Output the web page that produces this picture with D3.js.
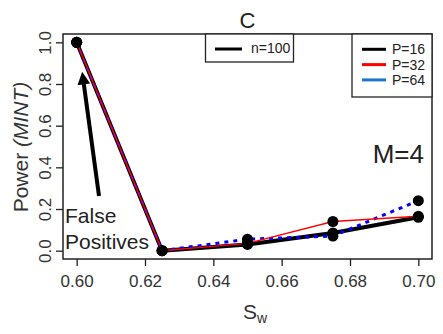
<!DOCTYPE html>
<html>
<head>
<meta charset="utf-8">
<script src="https://cdn.jsdelivr.net/npm/d3@7"></script>
<style>
  body { margin: 0; background: #fff; }
  text { font-family: "Liberation Sans", Arial, sans-serif; }
</style>
</head>
<body>
<script>
const width = 443;
const height = 334;

const margin = {
    left: 63,
    right: 11,
    top: 34,
    bottom: 75
};

// data
const sw = [0.60, 0.625, 0.65, 0.675, 0.70];
const p16 = [1.0, 0.0, 0.03, 0.085, 0.16];
const p32 = [1.0, 0.0, 0.035, 0.14, 0.165];
const p64 = [1.0, 0.0, 0.055, 0.07, 0.24];
const xTicks = [0.60, 0.62, 0.64, 0.66, 0.68, 0.70];
const yTicks = [0.0, 0.2, 0.4, 0.6, 0.8, 1.0];
const seriesNames = ["P=16", "P=32", "P=64"];
const legendColors = ["black", "#ff0000", "#1f74d2"];

let svg = d3.select("body").append("svg")
    .attr("width", width)
    .attr("height", height);

let xScale = d3.scaleLinear()
    .domain([0.596, 0.704])
    .range([margin.left, width - margin.right]);

let yScale = d3.scaleLinear()
    .domain([-0.04, 1.04])
    .range([height - margin.bottom, margin.top]);

// box
svg.append("rect")
    .attr("x", margin.left)
    .attr("y", margin.top)
    .attr("width", width - margin.left - margin.right)
    .attr("height", height - margin.top - margin.bottom)
    .attr("fill", "none")
    .attr("stroke", "#222")
    .attr("stroke-width", 1.5);

let xAxis = svg.append("g")
    .attr("transform", "translate(0," + (height - margin.bottom) + ")")
    .call(d3.axisBottom(xScale).tickValues(xTicks).tickFormat(d3.format(".2f")).tickSize(7).tickPadding(9));
xAxis.select(".domain").remove();
xAxis.selectAll("line").attr("stroke", "#222").attr("stroke-width", 1.3);
xAxis.selectAll("text").style("font-size", "17px").attr("fill", "#333");

let yAxis = svg.append("g")
    .attr("transform", "translate(" + margin.left + ",0)")
    .call(d3.axisLeft(yScale).tickValues(yTicks).tickFormat(d3.format(".1f")).tickSize(7));
yAxis.select(".domain").remove();
yAxis.selectAll("line").attr("stroke", "#222").attr("stroke-width", 1.3);
yAxis.selectAll("text")
    .style("font-size", "17px")
    .attr("fill", "#333")
    .attr("text-anchor", "middle")
    .attr("x", 0)
    .attr("dy", 0)
    .attr("transform", "translate(-12,0) rotate(-90)");

// titles
svg.append("text")
    .attr("x", (margin.left + width - margin.right) / 2)
    .attr("y", 28)
    .attr("text-anchor", "middle")
    .style("font-size", "22px")
    .attr("fill", "#222")
    .text("C");

let yLab = svg.append("text")
    .attr("text-anchor", "middle")
    .style("font-size", "21px")
    .attr("fill", "#333")
    .attr("transform", "translate(28,147) rotate(-90)");
yLab.append("tspan").text("Power ");
yLab.append("tspan").style("font-style", "italic").text("(MINT)");

let xLab = svg.append("text")
    .attr("x", 243)
    .attr("y", 319)
    .style("font-size", "21px")
    .attr("fill", "#333");
xLab.append("tspan").text("S");
xLab.append("tspan").attr("dy", 4).style("font-size", "14px").text("w");

svg.append("text")
    .attr("x", 424)
    .attr("y", 163)
    .attr("text-anchor", "end")
    .style("font-size", "26px")
    .attr("fill", "#222")
    .text("M=4");

// lines
let line = d3.line()
    .x((d, i) => xScale(sw[i]))
    .y(d => yScale(d));

svg.append("path")
    .attr("d", line(p16))
    .attr("fill", "none")
    .attr("stroke", "black")
    .attr("stroke-width", 4)
    .attr("stroke-linejoin", "round");

svg.append("path")
    .attr("d", line(p64))
    .attr("fill", "none")
    .attr("stroke", "#0000ff")
    .attr("stroke-width", 3)
    .attr("stroke-dasharray", "4,5");

svg.append("path")
    .attr("d", line(p32))
    .attr("fill", "none")
    .attr("stroke", "#ff0000")
    .attr("stroke-width", 1.5);

// points
[p16, p32, p64].forEach(vals => {
    svg.append("g").selectAll("circle")
        .data(vals)
        .enter()
        .append("circle")
        .attr("cx", (d, i) => xScale(sw[i]))
        .attr("cy", d => yScale(d))
        .attr("r", 5.5)
        .attr("fill", "black");
});

// arrow + label
svg.append("defs").append("marker")
    .attr("id", "head")
    .attr("viewBox", "0 0 10 10")
    .attr("refX", 5)
    .attr("refY", 5)
    .attr("markerWidth", 3.2)
    .attr("markerHeight", 3.2)
    .attr("orient", "auto")
    .append("path")
    .attr("d", "M0,0 L10,5 L0,10 Z")
    .attr("fill", "black");

svg.append("line")
    .attr("x1", 99)
    .attr("y1", 196)
    .attr("x2", 83)
    .attr("y2", 78)
    .attr("stroke", "black")
    .attr("stroke-width", 4)
    .attr("marker-end", "url(#head)");

svg.append("text")
    .attr("x", 65)
    .attr("y", 223)
    .style("font-size", "21px")
    .attr("fill", "#222")
    .text("False");
svg.append("text")
    .attr("x", 65)
    .attr("y", 249)
    .style("font-size", "21px")
    .attr("fill", "#222")
    .text("Positives");

// legend n=100
svg.append("rect")
    .attr("x", 205.5)
    .attr("y", margin.top)
    .attr("width", 88)
    .attr("height", 28)
    .attr("fill", "white")
    .attr("stroke", "#222")
    .attr("stroke-width", 1.3);
svg.append("line")
    .attr("x1", 215).attr("x2", 242)
    .attr("y1", 49).attr("y2", 49)
    .attr("stroke", "black")
    .attr("stroke-width", 3);
svg.append("text")
    .attr("x", 251)
    .attr("y", 53)
    .style("font-size", "14px")
    .attr("fill", "#222")
    .text("n=100");

// legend P
svg.append("rect")
    .attr("x", 352)
    .attr("y", margin.top)
    .attr("width", width - margin.right - 352)
    .attr("height", 63)
    .attr("fill", "white")
    .attr("stroke", "#222")
    .attr("stroke-width", 1.3);

let leg = svg.append("g").selectAll("g")
    .data(seriesNames)
    .enter()
    .append("g")
    .attr("transform", (d, i) => `translate(0,${49.3 + i * 15.3})`);
leg.append("line")
    .attr("x1", 362).attr("x2", 386)
    .attr("y1", 0).attr("y2", 0)
    .attr("stroke", (d, i) => legendColors[i])
    .attr("stroke-width", 3);
leg.append("text")
    .attr("x", 392)
    .attr("y", 5)
    .style("font-size", "14px")
    .attr("fill", "#222")
    .text(d => d);
</script>
</body>
</html>
